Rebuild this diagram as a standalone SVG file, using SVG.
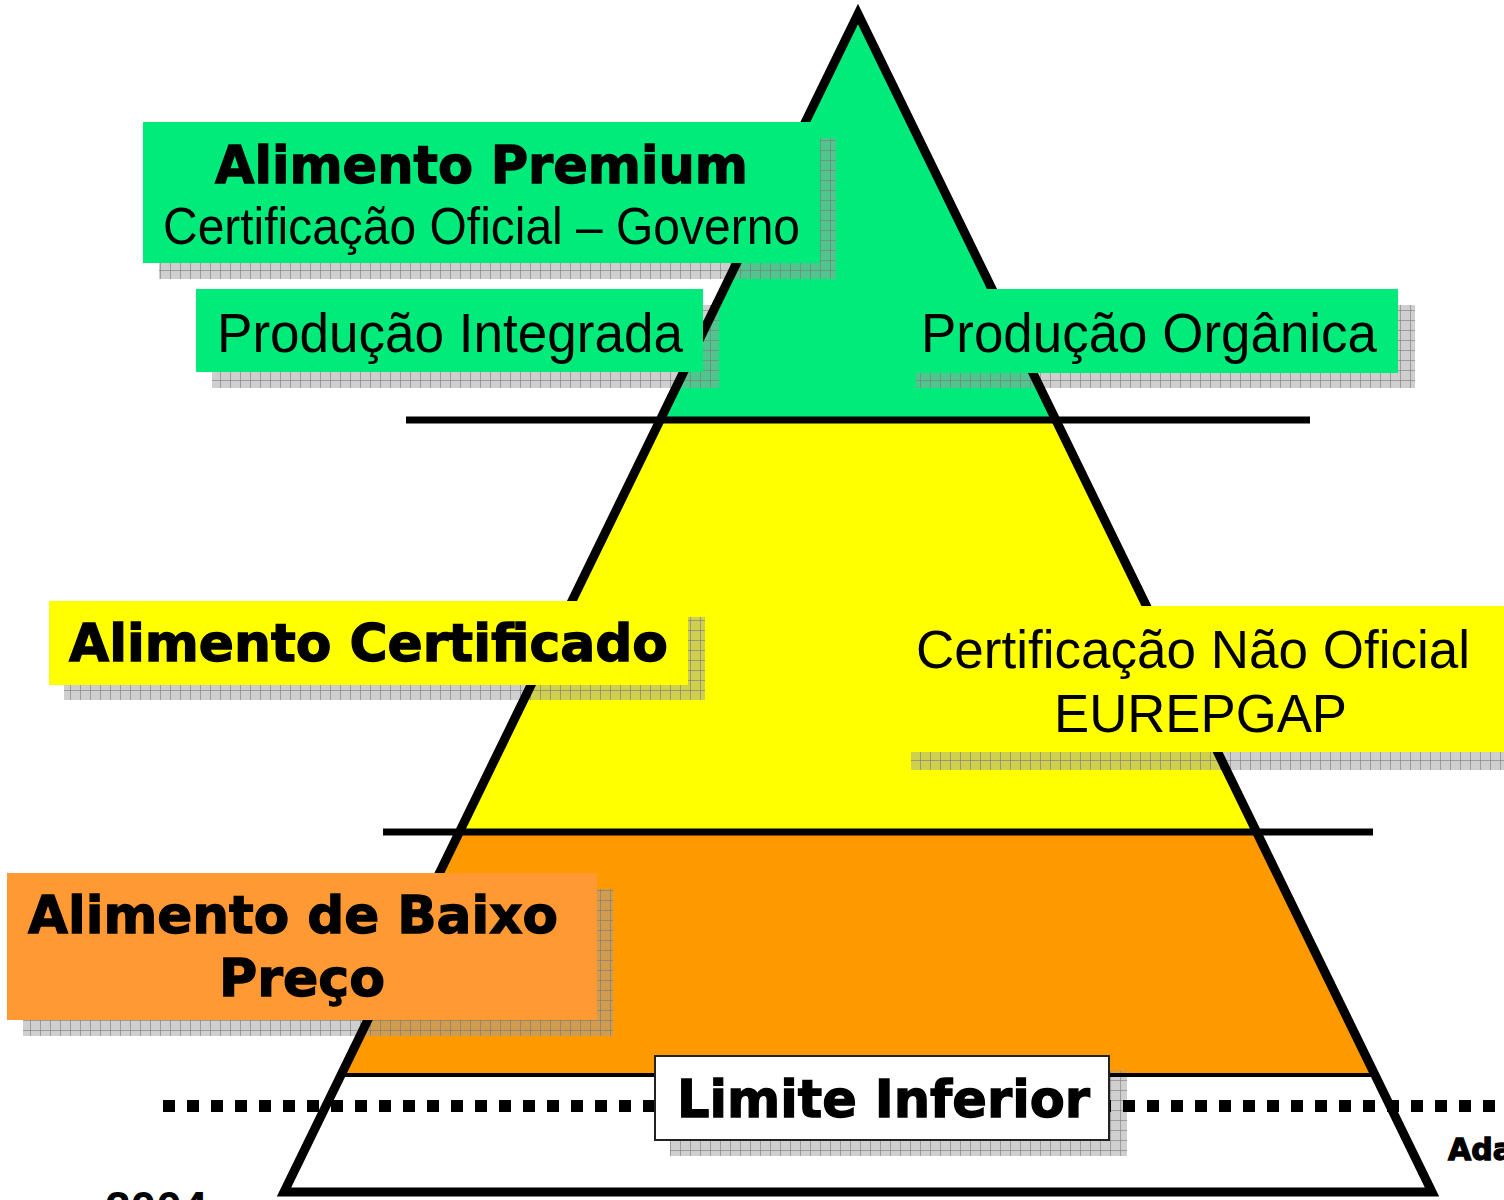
<svg xmlns="http://www.w3.org/2000/svg" width="1504" height="1200" viewBox="0 0 1504 1200">
<defs>
<pattern id="grid" width="10" height="10" patternUnits="userSpaceOnUse">
<rect width="10" height="10" fill="#a0a0a0" fill-opacity="0.5"/>
<path d="M0 0.5H10M0.5 0V10" stroke="#7a7a7a" stroke-opacity="0.6" stroke-width="1"/>
</pattern>
</defs>
<style>
.shadow{fill:url(#grid)}
.bold{font-family:"DejaVu Sans","Verdana",sans-serif;font-weight:bold;fill:#000;stroke:#000;stroke-width:1.3}
.reg{font-family:"Liberation Sans",Arial,sans-serif;fill:#000}
.sep{stroke:#000;stroke-width:7}
</style>
<rect width="1504" height="1200" fill="#fff"/>
<g id="pyramid">
<polygon points="858,12 1056,420 660,420" fill="#00eb7a"/>
<polygon points="660,420 1056,420 1257,832 459,832" fill="#ffff00"/>
<polygon points="459,832 1257,832 1375,1075 341,1075" fill="#ff9900"/>
<polygon points="341,1075 1375,1075 1433,1192 283,1192" fill="#fff"/>
</g>
<g id="shadows">
<rect class="shadow" x="159" y="138" width="677" height="141"/>
<rect class="shadow" x="212" y="305" width="507" height="83"/>
<rect class="shadow" x="916" y="305" width="499" height="83"/>
<rect class="shadow" x="64" y="617" width="641" height="83"/>
<rect class="shadow" x="911" y="752" width="593" height="18"/>
<rect class="shadow" x="23" y="889" width="590" height="147"/>
<rect class="shadow" x="670" y="1071" width="457" height="85"/>
</g>
<g id="connectors">
<line class="sep" x1="406" y1="420" x2="1310" y2="420"/>
<line class="sep" x1="383" y1="832" x2="1373" y2="832"/>
<line x1="341" y1="1075" x2="1375" y2="1075" stroke="#000" stroke-width="4"/>
<line x1="163" y1="1106" x2="1504" y2="1106" stroke="#000" stroke-width="12" stroke-dasharray="12 12"/>
<polygon points="858,14 1432,1192 284,1192" fill="none" stroke="#000" stroke-width="9" stroke-miterlimit="10"/>
</g>
<g id="premium">
<rect x="143" y="122" width="677" height="141" fill="#00eb7a"/>
<text class="bold" x="215" y="183" font-size="52" textLength="533" lengthAdjust="spacingAndGlyphs">Alimento Premium</text>
<text class="reg" x="163" y="244" font-size="52" textLength="637" lengthAdjust="spacingAndGlyphs">Certificação Oficial – Governo</text>
</g>
<g id="integrada">
<rect x="196" y="289" width="507" height="83" fill="#00eb7a"/>
<text class="reg" x="217" y="352" font-size="55" textLength="466" lengthAdjust="spacingAndGlyphs">Produção Integrada</text>
</g>
<g id="organica">
<rect x="900" y="289" width="498" height="84" fill="#00eb7a"/>
<text class="reg" x="921" y="352" font-size="55" textLength="456" lengthAdjust="spacingAndGlyphs">Produção Orgânica</text>
</g>
<g id="certificado">
<rect x="49" y="601" width="639" height="84" fill="#ffff00"/>
<text class="bold" x="69" y="661" font-size="51" textLength="599" lengthAdjust="spacingAndGlyphs">Alimento Certificado</text>
</g>
<g id="naooficial">
<rect x="895" y="606" width="609" height="146" fill="#ffff00"/>
<text class="reg" x="916" y="668" font-size="54" textLength="554" lengthAdjust="spacingAndGlyphs">Certificação Não Oficial</text>
<text class="reg" x="1054" y="732" font-size="54" textLength="293" lengthAdjust="spacingAndGlyphs">EUREPGAP</text>
</g>
<g id="baixo">
<rect x="7" y="873" width="590" height="147" fill="#ff9933"/>
<text class="bold" x="28" y="933" font-size="52" textLength="530" lengthAdjust="spacingAndGlyphs">Alimento de Baixo</text>
<text class="bold" x="219" y="996" font-size="52" textLength="166" lengthAdjust="spacingAndGlyphs">Preço</text>
</g>
<g id="limite">
<rect x="655" y="1056" width="454" height="84" fill="#fff" stroke="#222" stroke-width="2"/>
<text class="bold" x="677" y="1117" font-size="52" textLength="413" lengthAdjust="spacingAndGlyphs">Limite Inferior</text>
</g>
<g id="credits">
<text class="bold" x="1448" y="1160" font-size="30">Ada</text>
<text class="reg" x="105" y="1224" font-size="46" font-weight="bold">2004</text>
</g>
</svg>
